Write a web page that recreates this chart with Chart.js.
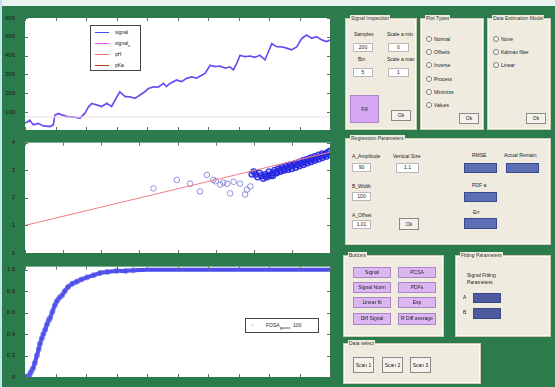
<!DOCTYPE html>
<html>
<head>
<meta charset="utf-8">
<script src="https://cdn.jsdelivr.net/npm/chart.js@4.4.1/dist/chart.umd.min.js"></script>
<style>
  html, body { margin: 0; padding: 0; }
  body { width: 555px; height: 387px; background: #2b7b4c; position: relative; overflow: hidden;
         font-family: "Liberation Sans", Arial, sans-serif; }
  .edgeTop { position: absolute; left: 0; top: 0; width: 555px; height: 6px; background: #e9f3f1; }
  .edgeLeft { position: absolute; left: 0; top: 0; width: 2px; height: 387px; background: #bfe6ee; }
  canvas { position: absolute; left: 0; }
  .legend { position: absolute; background: #fff; border: 1px solid #444; font-size: 5px; color: #222; }
  .legend .row { position: absolute; left: 4px; height: 6px; }
  .legend .sw { position: absolute; left: 0; top: 3px; width: 14px; height: 1px; }
  .legend .lb { position: absolute; left: 20px; top: 0; white-space: nowrap; }
  .panel { position: absolute; background: #efecdf; border: 1px solid #cfcab4; box-shadow: inset 0 0 0 1px #fbfaf4; }
  .ttl { position: absolute; top: -4px; left: 4px; padding: 0 1px; background: #efecdf; font-size: 5px; color: #333; white-space: nowrap; }
  .lbl { position: absolute; font-size: 5px; color: #222; white-space: nowrap; }
  .inp { position: absolute; background: #fff; border: 1px solid #b8b8b8; font-size: 5px; color: #222; text-align: center; line-height: 7px; }
  .btn { position: absolute; background: #f4f2ea; border: 1px solid #8a8a8a; font-size: 5px; color: #222; text-align: center; }
  .lil { position: absolute; background: #dcb6f2; border: 1px solid #a985c4; font-size: 5px; color: #222; text-align: center; line-height: 9px; }
  .blue { position: absolute; background: #5a6fb4; border: 1px solid #394a8c; }
  .rad { position: absolute; width: 4px; height: 4px; border-radius: 50%; background: #fff; border: 1px solid #7a7a7a; }
</style>
</head>
<body>
<div class="edgeTop"></div>
<div class="edgeLeft"></div>

<canvas id="sigChart" width="340" height="137" style="top:0px"></canvas>
<canvas id="fitChart" width="340" height="124" style="top:137px"></canvas>
<canvas id="fosaChart" width="340" height="126" style="top:261px"></canvas>

<div class="legend" style="left:90px;top:25px;width:49px;height:44px">
  <div class="row" style="top:3px"><div class="sw" style="background:#4b4bf0"></div><div class="lb">signal</div></div>
  <div class="row" style="top:14px"><div class="sw" style="background:#f060f0"></div><div class="lb">signal<sub style="font-size:4px">s</sub></div></div>
  <div class="row" style="top:25px"><div class="sw" style="background:#f07070"></div><div class="lb">pH</div></div>
  <div class="row" style="top:36px"><div class="sw" style="background:#b84020"></div><div class="lb">pKa</div></div>
</div>

<div class="legend" style="left:245px;top:318px;width:72px;height:13px">
  <div class="lb" style="position:absolute;left:5px;top:3px;color:#6a6ae0">&#9675;</div>
  <div class="lb" style="position:absolute;left:20px;top:3px">FOSA<sub style="font-size:4px">gauss</sub>&nbsp;&nbsp;100</div>
</div>

<!-- signal inspection -->
<div class="panel" style="left:345px;top:18px;width:70px;height:110px">
  <div class="ttl">Signal Inspection</div>
  <div class="lbl" style="left:8px;top:12px">Samples</div>
  <div class="lbl" style="left:41px;top:12px">Scale a min</div>
  <div class="inp" style="left:7px;top:24px;width:18px;height:7px">200</div>
  <div class="inp" style="left:42px;top:24px;width:19px;height:7px">0</div>
  <div class="lbl" style="left:12px;top:37px">Bin</div>
  <div class="lbl" style="left:41px;top:37px">Scale a max</div>
  <div class="inp" style="left:7px;top:49px;width:18px;height:7px">5</div>
  <div class="inp" style="left:42px;top:49px;width:19px;height:7px">1</div>
  <div class="lil" style="left:4px;top:76px;width:27px;height:26px;line-height:26px;background:#d6a8f4">Fill</div>
  <div class="btn" style="left:45px;top:91px;width:18px;height:9px;line-height:9px">Ok</div>
</div>

<!-- plot types -->
<div class="panel" style="left:420px;top:18px;width:62px;height:110px">
  <div class="ttl">Plot Types</div>
  <div class="rad" style="left:5px;top:17px"></div><div class="lbl" style="left:13px;top:17px">Normal</div>
  <div class="rad" style="left:5px;top:30px"></div><div class="lbl" style="left:13px;top:30px">Offsets</div>
  <div class="rad" style="left:5px;top:43px"></div><div class="lbl" style="left:13px;top:43px">Inverse</div>
  <div class="rad" style="left:5px;top:57px"></div><div class="lbl" style="left:13px;top:57px">Process</div>
  <div class="rad" style="left:5px;top:70px"></div><div class="lbl" style="left:13px;top:70px">Minimize</div>
  <div class="rad" style="left:5px;top:83px"></div><div class="lbl" style="left:13px;top:83px">Values</div>
  <div class="btn" style="left:38px;top:94px;width:18px;height:9px;line-height:9px">Ok</div>
</div>

<!-- data estimation -->
<div class="panel" style="left:487px;top:18px;width:62px;height:110px">
  <div class="ttl">Data Estimation Model</div>
  <div class="rad" style="left:5px;top:17px"></div><div class="lbl" style="left:13px;top:17px">None</div>
  <div class="rad" style="left:5px;top:30px"></div><div class="lbl" style="left:13px;top:30px">Kalman filter</div>
  <div class="rad" style="left:5px;top:43px"></div><div class="lbl" style="left:13px;top:43px">Linear</div>
  <div class="btn" style="left:38px;top:94px;width:18px;height:9px;line-height:9px">Ok</div>
</div>

<!-- regression parameters -->
<div class="panel" style="left:345px;top:138px;width:204px;height:105px">
  <div class="ttl">Regression Parameters</div>
  <div class="lbl" style="left:6px;top:14px">A_Amplitude</div>
  <div class="lbl" style="left:47px;top:14px">Vertical Size</div>
  <div class="lbl" style="left:126px;top:13px">RMSE</div>
  <div class="lbl" style="left:158px;top:13px">Actual Remain</div>
  <div class="inp" style="left:6px;top:24px;width:17px;height:7px">90</div>
  <div class="inp" style="left:50px;top:24px;width:21px;height:8px">1.1</div>
  <div class="blue" style="left:118px;top:24px;width:31px;height:8px"></div>
  <div class="blue" style="left:160px;top:24px;width:31px;height:8px"></div>
  <div class="lbl" style="left:6px;top:44px">B_Width</div>
  <div class="lbl" style="left:126px;top:43px">PDF a</div>
  <div class="inp" style="left:6px;top:53px;width:17px;height:7px">100</div>
  <div class="blue" style="left:118px;top:53px;width:31px;height:8px"></div>
  <div class="lbl" style="left:6px;top:73px">A_Offset</div>
  <div class="lbl" style="left:127px;top:70px">Err</div>
  <div class="inp" style="left:6px;top:81px;width:17px;height:7px">1.01</div>
  <div class="btn" style="left:53px;top:79px;width:18px;height:10px;line-height:10px">Ok</div>
  <div class="blue" style="left:118px;top:79px;width:31px;height:9px"></div>
</div>

<!-- buttons -->
<div class="panel" style="left:343px;top:255px;width:99px;height:80px">
  <div class="ttl">Buttons</div>
  <div class="lil" style="left:9px;top:11px;width:36px;height:9px">Signal</div>
  <div class="lil" style="left:54px;top:11px;width:36px;height:9px">PCSA</div>
  <div class="lil" style="left:9px;top:26px;width:36px;height:9px">Signal Norm</div>
  <div class="lil" style="left:54px;top:26px;width:36px;height:9px">PDFs</div>
  <div class="lil" style="left:9px;top:41px;width:36px;height:9px">Linear fit</div>
  <div class="lil" style="left:54px;top:41px;width:36px;height:9px">Exp</div>
  <div class="lil" style="left:9px;top:57px;width:36px;height:10px">Diff Signal</div>
  <div class="lil" style="left:54px;top:57px;width:36px;height:10px">R Diff average</div>
</div>

<!-- fitting parameters -->
<div class="panel" style="left:455px;top:255px;width:94px;height:80px">
  <div class="ttl">Fitting Parameters</div>
  <div class="lbl" style="left:11px;top:16px">Signal Fitting</div>
  <div class="lbl" style="left:11px;top:23px">Parameters</div>
  <div class="lbl" style="left:7px;top:38px">A</div>
  <div class="blue" style="left:17px;top:37px;width:26px;height:8px;background:#4d5a9e"></div>
  <div class="lbl" style="left:7px;top:53px">B</div>
  <div class="blue" style="left:17px;top:52px;width:26px;height:9px;background:#4d5a9e"></div>
</div>

<!-- data select -->
<div class="panel" style="left:343px;top:343px;width:136px;height:39px">
  <div class="ttl">Data select</div>
  <div class="btn" style="left:9px;top:13px;width:19px;height:14px;line-height:14px">Scan 1</div>
  <div class="btn" style="left:38px;top:13px;width:19px;height:14px;line-height:14px">Scan 2</div>
  <div class="btn" style="left:66px;top:13px;width:19px;height:14px;line-height:14px">Scan 3</div>
</div>

<script>
// ---- top plot: raw signal and smoothed signal
const sigX = [0, .016, .027, .044, .06, .082, .093, .098, .109, .12, .137, .158, .18, .197, .208, .219, .235, .251, .268, .284,
  .301, .311, .328, .344, .361, .377, .393, .404, .421, .437, .454, .464, .475, .497, .514, .53, .546, .563, .579, .59,
  .607, .623, .639, .656, .672, .683, .694, .705, .721, .738, .754, .77, .787, .798, .809, .825, .842, .858, .874, .891,
  .907, .923, .94, .956, .973, .989, 1.0];
const sigRaw = [40, 58, 32, 40, 26, 23, 32, 85, 94, 85, 76, 76, 67, 94, 129, 147, 138, 129, 147, 129,
  182, 209, 182, 182, 173, 191, 209, 226, 235, 232, 253, 235, 253, 271, 262, 280, 288, 280, 297, 306,
  350, 341, 345, 333, 341, 324, 359, 403, 394, 398, 391, 403, 377, 421, 465, 447, 447, 439, 430, 447,
  492, 510, 492, 501, 483, 474, 483];
const sigSmooth = [44, 52, 36, 38, 30, 26, 36, 80, 90, 88, 80, 72, 70, 98, 124, 143, 140, 132, 143, 133,
  178, 204, 186, 180, 176, 188, 205, 222, 232, 236, 250, 240, 250, 268, 265, 278, 286, 282, 294, 304,
  346, 344, 342, 336, 338, 328, 356, 398, 396, 396, 393, 400, 381, 418, 460, 450, 445, 441, 433, 445,
  488, 506, 495, 498, 486, 477, 480];
const baseX = [0, 1];
const baseY = [74, 74];
const sigXTicks = [0, 0.1, 0.2, 0.3, 0.4, 0.5, 0.6, 0.7, 0.8, 0.9, 1];
const sigYTicks = [100, 200, 300, 400, 500, 600];

// ---- middle plot: regression scatter and fitted line
const scatX = [3.37, 3.98, 4.33, 4.59, 4.77, 4.94, 5.0, 5.12, 5.2, 5.3, 5.38, 5.47, 5.64, 5.77, 5.82, 5.91];
const scatY = [2.34, 2.65, 2.51, 2.23, 2.83, 2.65, 2.6, 2.48, 2.55, 2.51, 2.16, 2.58, 2.51, 2.12, 2.30, 2.41];
const clusterX = [5.95, 6.0, 6.05, 6.1, 6.15, 6.2, 6.25, 6.3, 6.35, 6.4, 6.45, 6.5, 6.55, 6.6, 6.65, 6.7, 6.75, 6.8, 6.85, 6.9,
  6.95, 7.0, 7.05, 7.1, 7.15, 7.2, 7.25, 7.3, 7.35, 7.4, 7.45, 7.5, 7.55, 7.6, 7.65, 7.7, 7.75, 7.8, 7.85, 7.9, 7.95, 8.0];
const clusterY = [2.85, 2.95, 2.85, 2.75, 2.9, 2.8, 2.7, 2.85, 2.75, 2.95, 2.8, 2.9, 3.0, 2.95, 3.05, 3.0, 3.1, 3.05, 3.15, 3.1,
  3.2, 3.15, 3.2, 3.25, 3.2, 3.3, 3.25, 3.35, 3.3, 3.4, 3.35, 3.45, 3.4, 3.5, 3.45, 3.55, 3.5, 3.6, 3.55, 3.6, 3.65, 3.7];
const clusterX2 = [6.3, 6.4, 6.5, 6.6, 6.7, 6.8, 6.9, 7.0, 7.1, 7.2, 7.3, 7.4, 7.5, 7.6, 7.7, 7.8, 7.9, 8.0];
const clusterY2 = [2.78, 2.82, 2.8, 2.9, 2.95, 3.0, 3.02, 3.05, 3.1, 3.15, 3.2, 3.25, 3.3, 3.35, 3.4, 3.45, 3.5, 3.55];
const fitX = [0, 8];
const fitY = [1.0, 3.65];
const fitXTicks = [0, 1, 2, 3, 4, 5, 6, 7, 8];
const fitYTicks = [0, 1, 2, 3, 4];

// ---- bottom plot: FOSA curve
const riseX = [0, .005, .01, .015, .02, .026, .032, .039, .045, .049, .055, .06, .066, .072, .078, .082, .09, .098, .105, .113,
  .121, .13, .141, .155, .17, .185, .203, .225, .246, .27, .3, .33, .355, .4, .45, .5, .55, .6, .65, .7,
  .75, .8, .85, .9, .95, 1];
const riseY = [0, 0, .005, .02, .05, .08, .13, .2, .26, .31, .36, .4, .44, .49, .53, .55, .61, .67, .71, .74,
  .76, .8, .84, .87, .89, .91, .93, .95, .97, .98, .99, .99, .995, 1, 1, 1, 1, 1, 1, 1,
  1, 1, 1, 1, 1, 1];
const fosaXTicks = [0, 0.1, 0.2, 0.3, 0.4, 0.5, 0.6, 0.7, 0.8, 0.9, 1];
const fosaYTicks = [0, 0.2, 0.4, 0.6, 0.8, 1];

function pts(xs, ys) {
    return xs.map((x, i) => ({ x: x, y: ys[i] }));
}

// white plot area + small inward tick marks like the original figure
const plotBox = {
    id: 'plotBox',
    beforeDraw(chart) {
        const a = chart.chartArea;
        const ctx = chart.ctx;
        ctx.save();
        ctx.fillStyle = '#ffffff';
        ctx.fillRect(a.left, a.top, a.right - a.left, a.bottom - a.top);
        ctx.restore();
    },
    afterDraw(chart) {
        const a = chart.chartArea;
        const ctx = chart.ctx;
        const xs = chart.scales.x, ys = chart.scales.y;
        ctx.save();
        ctx.strokeStyle = '#6a6a6a';
        ctx.lineWidth = 1;
        ctx.beginPath();
        xs.ticks.forEach(t => {
            const p = Math.round(xs.getPixelForValue(t.value)) + 0.5;
            ctx.moveTo(p, a.bottom); ctx.lineTo(p, a.bottom - 3);
            ctx.moveTo(p, a.top); ctx.lineTo(p, a.top + 3);
        });
        ys.ticks.forEach(t => {
            const p = Math.round(ys.getPixelForValue(t.value)) + 0.5;
            ctx.moveTo(a.left, p); ctx.lineTo(a.left + 3, p);
            ctx.moveTo(a.right, p); ctx.lineTo(a.right - 3, p);
        });
        ctx.stroke();
        ctx.restore();
    }
};

function axes(xMin, xMax, xTicks, yMin, yMax, yTicks, xHeight) {
    const tickFont = { family: 'Liberation Sans', size: 6 };
    return {
        x: {
            type: 'linear', min: xMin, max: xMax,
            grid: { display: false }, border: { display: false },
            ticks: { color: '#1b1b1b', font: tickFont, padding: 1, autoSkip: false, maxRotation: 0 },
            afterBuildTicks: s => { s.ticks = xTicks.map(v => ({ value: v })); },
            afterFit: s => { s.height = xHeight; }
        },
        y: {
            type: 'linear', min: yMin, max: yMax,
            grid: { display: false }, border: { display: false },
            ticks: { color: '#1b1b1b', font: tickFont, padding: 2, autoSkip: false },
            afterBuildTicks: s => { s.ticks = yTicks.map(v => ({ value: v })); },
            afterFit: s => { s.width = 25; }
        }
    };
}

Chart.defaults.font.family = 'Liberation Sans';

// 1. signal over time
new Chart(document.getElementById('sigChart'), {
    type: 'line',
    data: {
        datasets: [{
            data: pts(baseX, baseY),
            borderColor: '#eddbe4', borderWidth: 1, pointRadius: 0
        }, {
            data: pts(sigX, sigRaw),
            borderColor: 'rgba(80,70,240,0.9)', borderWidth: 1.5, pointRadius: 0, tension: 0
        }, {
            data: pts(sigX, sigSmooth),
            borderColor: 'rgba(225,80,235,0.75)', borderWidth: 1.2, pointRadius: 0, tension: 0
        }]
    },
    options: {
        responsive: false, animation: false, devicePixelRatio: 1,
        layout: { padding: { top: 18, right: 10, left: 0, bottom: 0 } },
        plugins: { legend: { display: false }, tooltip: { enabled: false } },
        scales: axes(0, 1, sigXTicks, 5, 600, sigYTicks, 7)
    },
    plugins: [plotBox]
});

// 2. regression fit
new Chart(document.getElementById('fitChart'), {
    type: 'scatter',
    data: {
        datasets: [{
            type: 'line',
            data: pts(fitX, fitY),
            borderColor: '#f27d86', borderWidth: 1, pointRadius: 0
        }, {
            data: pts(scatX, scatY),
            borderColor: 'rgba(100,100,215,0.7)', backgroundColor: 'rgba(0,0,0,0)', borderWidth: 1, pointRadius: 2.8
        }, {
            data: pts(clusterX, clusterY),
            borderColor: 'rgba(35,35,225,0.9)', backgroundColor: 'rgba(60,60,230,0.25)', borderWidth: 1.3, pointRadius: 2.8
        }, {
            data: pts(clusterX2, clusterY2),
            borderColor: 'rgba(35,35,225,0.9)', backgroundColor: 'rgba(60,60,230,0.25)', borderWidth: 1.3, pointRadius: 2.8
        }]
    },
    options: {
        responsive: false, animation: false, devicePixelRatio: 1,
        layout: { padding: { top: 3, right: 10, left: 0, bottom: 0 } },
        plugins: { legend: { display: false }, tooltip: { enabled: false } },
        scales: axes(0, 8, fitXTicks, 0, 4, fitYTicks, 8)
    },
    plugins: [plotBox]
});

// 3. FOSA curve
new Chart(document.getElementById('fosaChart'), {
    type: 'line',
    data: {
        datasets: [{
            data: pts(riseX, riseY),
            borderColor: 'rgba(45,45,230,0.85)', borderWidth: 4,
            pointStyle: 'circle', pointBorderWidth: 1,
            pointRadius: ctx => (ctx.raw && ctx.raw.x > 0.36 ? 0 : 2.6),
            pointBorderColor: 'rgba(100,100,235,0.8)', pointBackgroundColor: 'rgba(255,255,255,0)',
            tension: 0.2
        }]
    },
    options: {
        responsive: false, animation: false, devicePixelRatio: 1,
        layout: { padding: { top: 1, right: 10, left: 0, bottom: 0 } },
        plugins: { legend: { display: false }, tooltip: { enabled: false } },
        scales: axes(0, 1, fosaXTicks, 0, 1.03, fosaYTicks, 10)
    },
    plugins: [plotBox]
});
</script>
</body>
</html>
